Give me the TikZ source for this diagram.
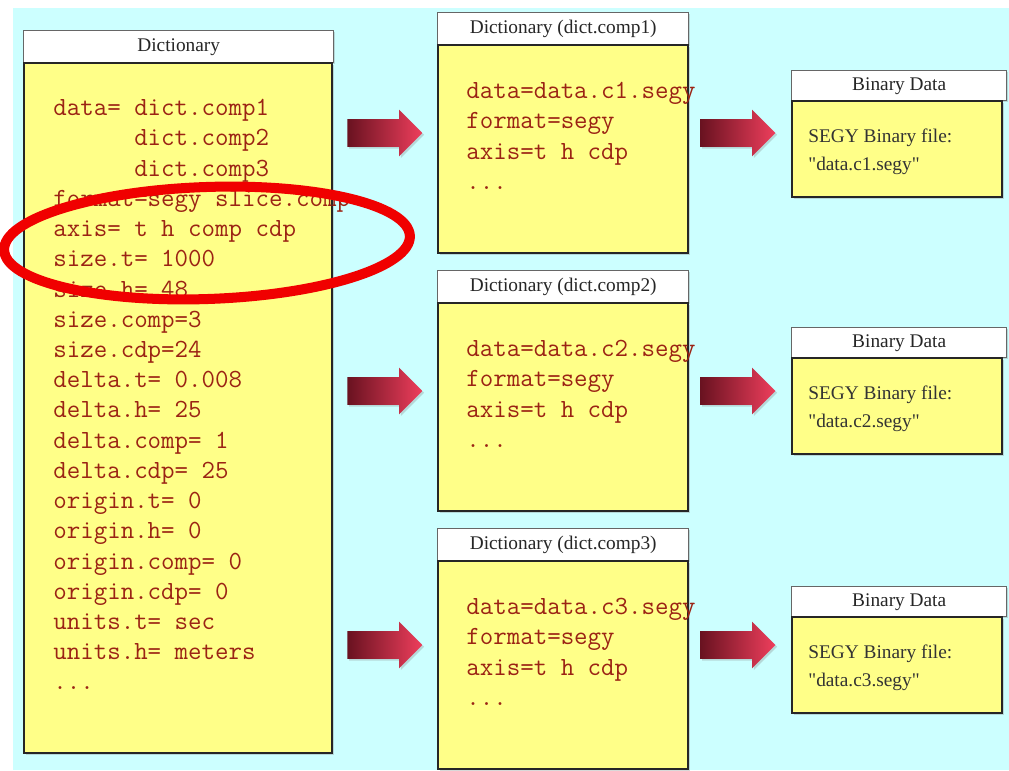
\documentclass[tikz,border=0pt]{standalone}
\usepackage{fontspec}
\setmainfont{Liberation Serif}
\usetikzlibrary{positioning}
\usetikzlibrary{shapes.arrows,shadows}

\definecolor{sky}{RGB}{204,255,255}
\definecolor{pad}{RGB}{255,255,136}
\definecolor{keyred}{RGB}{155,35,20}
\definecolor{arrowdark}{RGB}{105,18,32}
\definecolor{arrowlight}{RGB}{238,62,92}
\definecolor{ringred}{RGB}{240,0,0}

\begin{document}
\begin{tikzpicture}[
		title/.style={rectangle, draw=black!60, line width=0.8pt, fill=white, inner sep=0pt,
			text=black!85, font=\fontsize{11}{13}\selectfont,
			drop shadow={shadow xshift=0.8pt, shadow yshift=-0.8pt, opacity=0.3}},
		sheet/.style={rectangle, draw=black!85, line width=1.4pt, fill=pad, inner sep=0pt,
			drop shadow={shadow xshift=1pt, shadow yshift=-1pt, opacity=0.3}},
		code/.style={inner sep=0pt, align=left, text=keyred, font=\ttfamily\fontsize{14.9}{17.2}\selectfont},
		note/.style={inner sep=0pt, align=left, text=black!80, font=\fontsize{11}{15.5}\selectfont},
		push/.style={single arrow, single arrow head extend=0.19cm, inner xsep=0pt, inner ysep=0.27cm,
			minimum height=1.5cm, left color=arrowdark, right color=arrowlight,
			drop shadow={shadow xshift=1pt, shadow yshift=-1pt, opacity=0.3}},
		ring/.style={draw=ringred, line width=5.7pt}]
		\useasboundingbox (0,0) rectangle (20.18,15.4);
		\fill[sky] (0.26,0) rectangle (20.18,15.24);

		% master dictionary
		\node[title, anchor=north west, minimum width=6.2cm, minimum height=0.64cm] (dicthead) at (0.46,14.8) {Dictionary};
		\node[sheet, anchor=north west, minimum width=6.16cm, minimum height=13.8cm] (dict) at (0.46,14.16) {};
		\node[code, below right=0.74cm and 0.6cm of dict.north west] (dicttext) {data= dict.comp1\\
			\phantom{data= }dict.comp2\\
			\phantom{data= }dict.comp3\\
			format=segy slice.comp\\
			axis= t h comp cdp\\
			size.t= 1000\\
			size.h= 48\\
			size.comp=3\\
			size.cdp=24\\
			delta.t= 0.008\\
			delta.h= 25\\
			delta.comp= 1\\
			delta.cdp= 25\\
			origin.t= 0\\
			origin.h= 0\\
			origin.comp= 0\\
			origin.cdp= 0\\
			units.t= sec\\
			units.h= meters\\
			...};

		% one dictionary per component
		\node[title, anchor=north west, minimum width=5.02cm, minimum height=0.64cm] (comphead1) at (8.74,15.16) {Dictionary (dict.comp1)};
		\node[sheet, anchor=north west, minimum width=5cm, minimum height=4.16cm] (comp1) at (8.74,14.52) {};
		\node[code, below right=0.76cm and 0.58cm of comp1.north west] (comptext1) {data=data.c1.segy\\format=segy\\axis=t h cdp\\...};

		\node[title, anchor=north west, minimum width=5.02cm, minimum height=0.64cm] (comphead2) at (8.74,10.0) {Dictionary (dict.comp2)};
		\node[sheet, anchor=north west, minimum width=5cm, minimum height=4.16cm] (comp2) at (8.74,9.36) {};
		\node[code, below right=0.76cm and 0.58cm of comp2.north west] (comptext2) {data=data.c2.segy\\format=segy\\axis=t h cdp\\...};

		\node[title, anchor=north west, minimum width=5.02cm, minimum height=0.64cm] (comphead3) at (8.74,4.84) {Dictionary (dict.comp3)};
		\node[sheet, anchor=north west, minimum width=5cm, minimum height=4.16cm] (comp3) at (8.74,4.2) {};
		\node[code, below right=0.76cm and 0.58cm of comp3.north west] (comptext3) {data=data.c3.segy\\format=segy\\axis=t h cdp\\...};

		% binary files
		\node[title, anchor=north west, minimum width=4.3cm, minimum height=0.6cm] (binhead1) at (15.82,14.0) {Binary Data};
		\node[sheet, anchor=north west, minimum width=4.2cm, minimum height=1.92cm] (bin1) at (15.82,13.4) {};
		\node[note, below right=0.58cm and 0.34cm of bin1.north west] (bintext1) {SEGY Binary file:\\\textquotedbl data.c1.segy\textquotedbl};

		\node[title, anchor=north west, minimum width=4.3cm, minimum height=0.6cm] (binhead2) at (15.82,8.86) {Binary Data};
		\node[sheet, anchor=north west, minimum width=4.2cm, minimum height=1.92cm] (bin2) at (15.82,8.26) {};
		\node[note, below right=0.58cm and 0.34cm of bin2.north west] (bintext2) {SEGY Binary file:\\\textquotedbl data.c2.segy\textquotedbl};

		\node[title, anchor=north west, minimum width=4.3cm, minimum height=0.6cm] (binhead3) at (15.82,3.68) {Binary Data};
		\node[sheet, anchor=north west, minimum width=4.2cm, minimum height=1.92cm] (bin3) at (15.82,3.08) {};
		\node[note, below right=0.58cm and 0.34cm of bin3.north west] (bintext3) {SEGY Binary file:\\\textquotedbl data.c3.segy\textquotedbl};

		% block arrows
		\node[push, anchor=tail] (split1) at (6.94,12.74) {};
		\node[push, anchor=tail] (split2) at (6.94,7.58) {};
		\node[push, anchor=tail] (split3) at (6.94,2.5) {};
		\node[push, anchor=tail] (write1) at (14.0,12.74) {};
		\node[push, anchor=tail] (write2) at (14.0,7.58) {};
		\node[push, anchor=tail] (write3) at (14.0,2.5) {};

		% highlight
		\draw[ring, rotate around={2:(4.14,10.54)}] (4.14,10.54) ellipse [x radius=4.06cm, y radius=1.12cm];
	\end{tikzpicture}
\end{document}
